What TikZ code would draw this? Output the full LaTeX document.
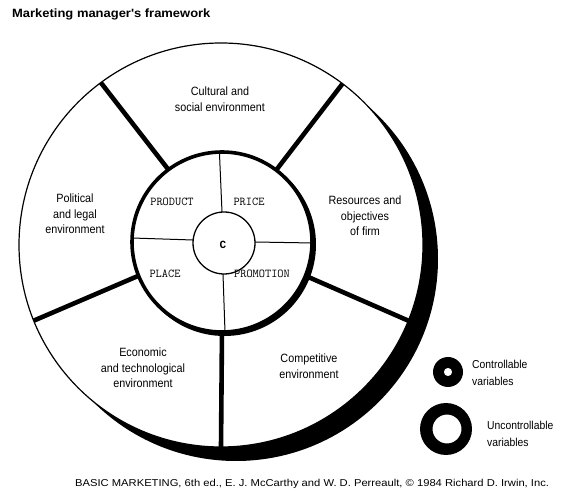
\documentclass[tikz,border=0pt]{standalone}
\usepackage{fontspec}
\setmainfont{Liberation Sans}
\newfontfamily\labfont[FakeStretch=0.9]{Liberation Sans}
\newfontfamily\mixfont{Liberation Mono}
\newfontfamily\titlefont[FakeStretch=1.08]{Liberation Sans}
\newfontfamily\footfont[FakeStretch=1.12]{Liberation Sans}
\usetikzlibrary{calc}
\begin{document}
\begin{tikzpicture}[x=1pt,y=1pt,
  labeltext/.style={font=\labfont\fontsize{12}{15.5}\selectfont, align=center, inner sep=0pt},
  legendtext/.style={font=\labfont\fontsize{11.5}{16.5}\selectfont, align=left, inner sep=0pt, anchor=west},
  mixtext/.style={font=\ttfamily\fontsize{12}{13}\selectfont, inner sep=0pt},
  thickdiv/.style={line width=4.6pt},
  thindiv/.style={line width=1pt}]
\useasboundingbox (0,0) rectangle (565,498);
% centres
\coordinate (O) at (221,253);
\coordinate (S) at (236,239);
\coordinate (I) at (222,256);
\coordinate (IS) at (224.5,253.5);
\coordinate (Cc) at (224,255);
% outer circle with shadow
\fill[black] (S) circle (202);
\fill[white] (O) circle (202);
\draw[line width=1.2pt] (O) circle (202);
% outer dividers
\foreach \a/\n in {53/ur,126.5/ul,202/ll,338/lr,270/bt}{
  \coordinate (in\n) at ($(I)+(\a:88)$);
  \coordinate (out\n) at ($(O)+(\a:202)$);
  \draw[thickdiv] (in\n) -- (out\n);
}
% inner (marketing mix) circle
\fill[black] (IS) circle (91.5);
\fill[white] (I) circle (90);
\draw[line width=3.6pt] (I) circle (90);
% thin dividers
\coordinate (t1) at (219.5,344);
\coordinate (t2) at (222,286);
\coordinate (l1) at (132,260);
\coordinate (l2) at (193,258);
\coordinate (r1) at (255,256);
\coordinate (r2) at (313,255);
\coordinate (b1) at (223,224);
\coordinate (b2) at (225,166);
\draw[thindiv] (t1) -- (t2);
\draw[thindiv] (l1) -- (l2);
\draw[thindiv] (r1) -- (r2);
\draw[thindiv] (b1) -- (b2);
% customer circle
\draw[line width=1.3pt, fill=white] (Cc) circle (31);
\node[font=\mixfont\bfseries\fontsize{11}{12}\selectfont, inner sep=0pt] (cust) at (223,253) {C};
% mix labels
\node[mixtext] (product) at (172,296) {PRODUCT};
\node[mixtext] (price) at (249,296) {PRICE};
\node[mixtext] (place) at (165,224) {PLACE};
\node[mixtext] (promotion) at (262,224) {PROMOTION};
% environment labels
\node[labeltext] (cult) at (220,399) {Cultural and\\social environment};
\node[labeltext] (pol) at (75,284) {Political\\and legal\\environment};
\node[labeltext] (res) at (365,282) {Resources and\\objectives\\of firm};
\node[labeltext] (eco) at (143,130) {Economic\\and technological\\environment};
\node[labeltext] (comp) at (309,132) {Competitive\\environment};
% legend
\fill[even odd rule] (448,126) circle (15) (448,126) circle (4.2);
\fill[even odd rule] (446,69) circle (26) (447,69) circle (14.5);
\node[legendtext] (ctrl) at (472,125) {Controllable\\variables};
\node[legendtext] (unctrl) at (487,64) {Uncontrollable\\variables};
% title and source
\node[font=\titlefont\bfseries\fontsize{12}{14}\selectfont, inner sep=0pt, anchor=base west] (title) at (12,480) {Marketing manager's framework};
\node[font=\footfont\fontsize{10}{12}\selectfont, inner sep=0pt, anchor=base west] (src) at (75,11) {BASIC MARKETING, 6th ed., E. J. McCarthy and W. D. Perreault, \textcopyright\ 1984 Richard D. Irwin, Inc.};
\end{tikzpicture}
\end{document}
